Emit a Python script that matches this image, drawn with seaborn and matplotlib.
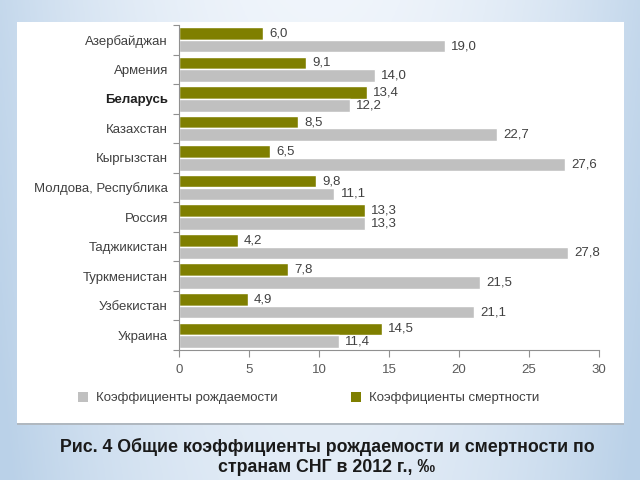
import numpy as np
import pandas as pd
import matplotlib
matplotlib.use("Agg")
import matplotlib.pyplot as plt
from matplotlib.patches import Rectangle, Patch
import seaborn as sns

countries = ["Азербайджан", "Армения", "Беларусь", "Казахстан", "Кыргызстан",
             "Молдова, Республика", "Россия", "Таджикистан", "Туркменистан",
             "Узбекистан", "Украина"]
birth_rate = [19.0, 14.0, 12.2, 22.7, 27.6, 11.1, 13.3, 27.8, 21.5, 21.1, 11.4]
death_rate = [6.0, 9.1, 13.4, 8.5, 6.5, 9.8, 13.3, 4.2, 7.8, 4.9, 14.5]
birth_label = "Коэффициенты рождаемости"
death_label = "Коэффициенты смертности"
x_ticks = [0, 5, 10, 15, 20, 25, 30]
caption = ("Рис. 4 Общие коэффициенты рождаемости и смертности по\n"
           "странам СНГ в 2012 г., ‰")

GREEN = "#7f7f00"
GRAY = "#c0c0c0"

sns.set_theme(style="white")
plt.rcParams['font.family'] = ['Liberation Sans', 'DejaVu Sans']

fig = plt.figure(figsize=(6.4, 4.8), dpi=100)

# background gradient
bg = fig.add_axes([0, 0, 1, 1], zorder=-10)
xx = np.linspace(-1, 1, 256)
yy = np.linspace(0, 1, 192)
X, Y = np.meshgrid(xx, yy)
t = np.clip(np.abs(X) ** 2 * 0.8 + Y * 0.25, 0, 1)
c0 = np.array([0.94, 0.96, 0.985])
c1 = np.array([0.73, 0.82, 0.91])
img = c0[None, None, :] * (1 - t[..., None]) + c1[None, None, :] * t[..., None]
bg.imshow(img, aspect="auto", extent=[0, 1, 0, 1], origin="upper")
bg.set_axis_off()

# white panel with subtle shadow
fig.patches.append(Rectangle((17/640, 1-425/480), 607/640, 401/480,
                             transform=fig.transFigure, facecolor="#b0b8c0",
                             edgecolor="none", zorder=-5))
fig.patches.append(Rectangle((17/640, 1-423/480), 607/640, 401/480,
                             transform=fig.transFigure, facecolor="white",
                             edgecolor="none", zorder=-4))

ax = fig.add_axes([179/640, 1-350/480, 420/640, 325/480])
ax.patch.set_alpha(0)

df = pd.DataFrame({
    "country": countries * 2,
    "value": death_rate + birth_rate,
    "kind": [death_label] * len(countries) + [birth_label] * len(countries),
})
sns.barplot(data=df, y="country", x="value", hue="kind",
            hue_order=[death_label, birth_label],
            palette=[GREEN, GRAY], orient="h", width=0.86,
            saturation=1, ax=ax, legend=False)

for cont in ax.containers:
    labels = [f"{b.get_width():.1f}".replace(".", ",") for b in cont]
    ax.bar_label(cont, labels=labels, padding=4.5, fontsize=9.5, color="#404040")

ax.set_xlim(0, 30)
ax.set_ylim(10.5, -0.5)
ax.set_xticks(x_ticks)
ax.set_xticklabels([str(v) for v in x_ticks])
ax.set_xlabel("")
ax.set_ylabel("")
ax.tick_params(axis="x", bottom=True, length=5, width=0.8, color="#909090",
               labelsize=9.5, labelcolor="#595959", pad=5)
ax.tick_params(axis="y", left=False, length=0, labelsize=9.5,
               labelcolor="#404040", pad=8)
ax.set_yticks(np.arange(-0.5, 11, 1), minor=True)
ax.tick_params(axis="y", which="minor", left=True, length=4, width=0.8,
               color="#909090")
for lab in ax.get_yticklabels():
    if lab.get_text() == "Беларусь":
        lab.set_fontweight("bold")
        lab.set_color("#202020")
for s in ["top", "right"]:
    ax.spines[s].set_visible(False)
for s in ["left", "bottom"]:
    ax.spines[s].set_color("#909090")
    ax.spines[s].set_linewidth(0.8)
ax.grid(False)

handles = [Patch(facecolor=GRAY, edgecolor="none", label=birth_label),
           Patch(facecolor=GREEN, edgecolor="none", label=death_label)]
fig.legend(handles=handles, loc="center left", bbox_to_anchor=(66/640, 1-398/480),
           ncol=2, frameon=False, fontsize=9.5, labelcolor="#404040",
           handlelength=0.8, handleheight=0.8, handletextpad=0.6,
           columnspacing=5.5)

fig.text(327/640, 1-457/480, caption, ha="center", va="center",
         fontsize=12.8, fontweight="bold", color="#1a1a1a", linespacing=1.3)

fig.savefig("out.png", dpi=100)
